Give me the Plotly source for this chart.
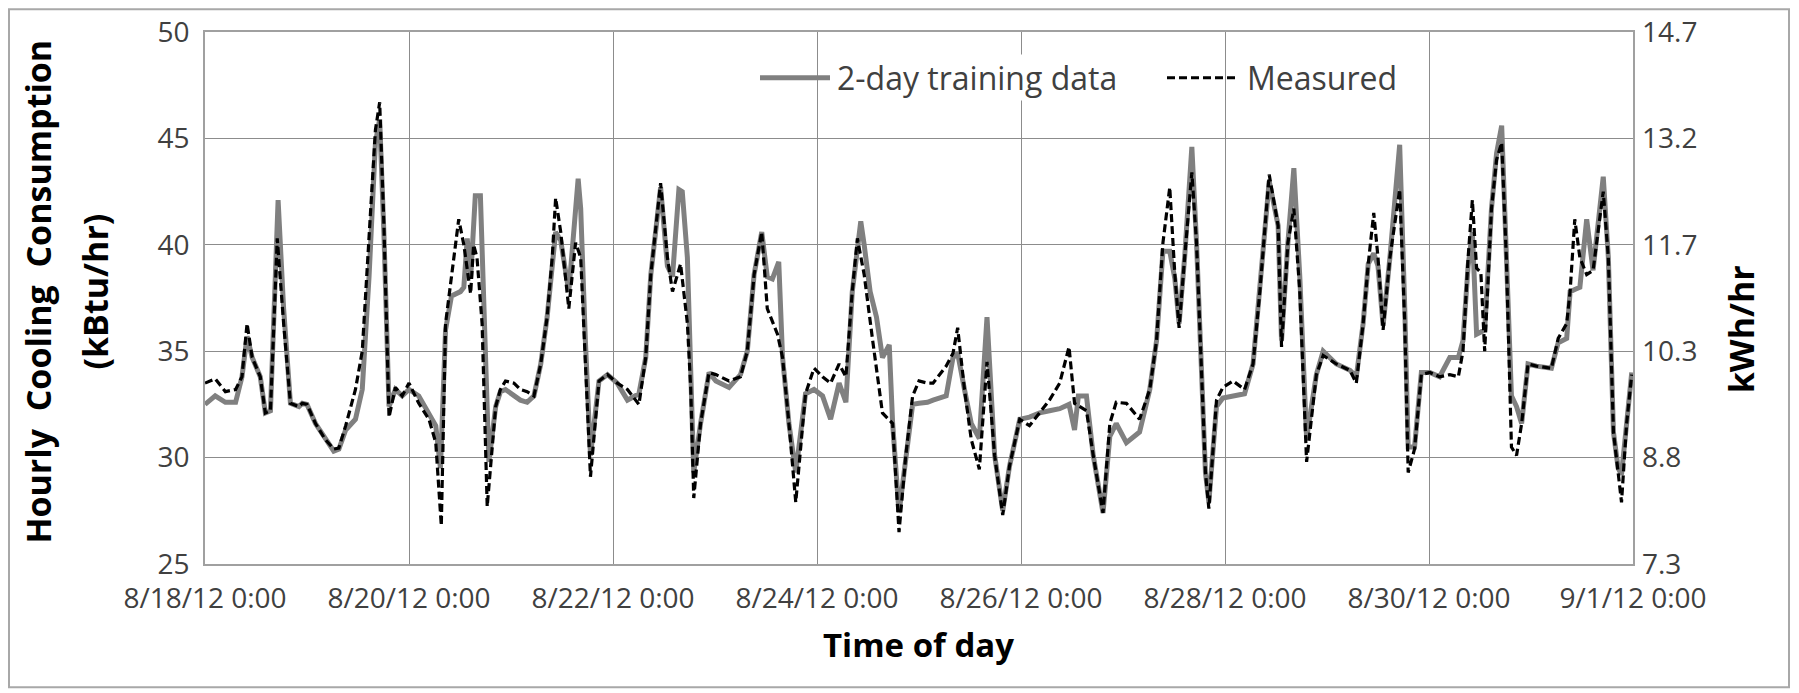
import pandas as pd
import plotly.graph_objects as go

# ---------------- data ----------------
start = pd.Timestamp("2012-08-18 00:00")

meas_hours = [0, 2.4, 4.8, 7.2, 8.7, 9.9, 11.1, 13, 14.2, 15.4, 17, 18.5, 20.1, 22.1, 22.9, 24,
              26, 28.3, 30.3, 31.5, 33.1, 35.4, 37, 38.6, 40.1, 41.1, 42.1, 43.3, 44.8, 46.4, 48,
              50.3, 52.7, 54.3, 55.6, 56.6, 58, 59.7, 60.9, 62.5, 63.2, 64, 65.2, 66.4, 68.4, 69.5,
              70.7, 72.7, 74.2, 75.8, 77.4, 79, 80.5, 81.7, 82.5, 83.7, 85.6, 87.2, 88.4, 89.5,
              90.7, 92.7, 94.7, 97, 99.4, 102.1, 103.7, 104.9, 107.2, 108.8, 110, 111.9, 113.5,
              114.3, 115, 116.6, 118.6, 120.2, 123.3, 126, 127.6, 129.2, 131, 132.3, 134.7, 135.9,
              137.4, 139, 141.3, 143.3, 145.3, 147.2, 149.2, 150.8, 152.3, 153.5, 155.1, 157.1,
              159.4, 161.8, 163.3, 164.9, 166.5, 168, 170, 171.3, 174.4, 176, 177.1, 178.7, 180.3,
              182.2, 184, 185.8, 187.7, 189.3, 191.7, 194, 196.4, 198.7, 201.1, 203.3, 204.6,
              207.4, 209, 211.3, 212.9, 214.4, 216.8, 219.9, 222.3, 223.9, 225.4, 227, 228.2,
              229.2, 230.5, 232.2, 233.3, 234.4, 235.4, 236.2, 238, 239.5, 241.9, 244.6, 246.6,
              248.2, 250.4, 252.5, 253.3, 254.8, 256.2, 257.6, 259.2, 261.5, 263.1, 266.2, 269.4,
              270.9, 272.5, 273.7, 275, 276, 277.2, 278.8, 281.1, 282.3, 283.1, 284.6, 286.2,
              288.2, 290.5, 292.9, 294.9, 296, 297.2, 298.2, 299.2, 300.2, 301.1, 302.7, 303.9,
              305.1, 306.2, 307.4, 308.6, 309.8, 311.3, 313.3, 316.8, 318.4, 320.4, 321.2, 322.3,
              323.5, 325.1, 326.6, 329, 330.2, 331.4, 332.5, 333.3, 334.5, 335.7]
meas_kbtu = [33.5, 33.7, 33.1, 33.2, 33.8, 36.3, 34.7, 33.8, 32.1, 32.2, 40.3, 36.3, 32.55, 32.4,
             32.55, 32.5, 31.6, 30.85, 30.4, 30.45, 31.5, 33.2, 35.0, 40.1, 45.4, 46.7, 40.9, 31.9,
             33.3, 32.9, 33.5, 32.55, 31.8, 30.7, 26.8, 36.3, 38.5, 41.2, 40.0, 37.7, 40.0, 39.4,
             36.3, 27.7, 32.4, 33.2, 33.6, 33.5, 33.2, 33.1, 32.9, 34.4, 36.6, 39.4, 42.2, 40.6,
             37.0, 40.1, 39.4, 34.7, 29.1, 33.6, 33.9, 33.5, 33.2, 32.5, 34.7, 38.6, 42.9, 39.4,
             37.8, 39.1, 36.3, 33.2, 28.1, 31.6, 34.0, 33.9, 33.6, 33.8, 35.0, 38.6, 40.6, 37.0,
             35.8, 34.7, 31.6, 27.9, 33.0, 34.2, 33.8, 33.5, 34.4, 33.8, 37.8, 40.3, 38.6, 35.5,
             32.1, 31.6, 26.5, 30.1, 32.9, 33.6, 33.5, 33.5, 34.3, 34.9, 36.1, 33.2, 30.85, 29.45,
             34.5, 30.1, 27.3, 29.6, 31.8, 31.5, 32.1, 32.7, 33.5, 35.2, 32.55, 32.2, 30.1, 27.4,
             31.6, 32.6, 32.55, 31.8, 33.2, 35.5, 40.1, 42.7, 38.6, 36.1, 39.4, 43.4, 40.1, 34.7,
             29.3, 27.6, 32.7, 33.3, 33.6, 33.2, 34.4, 37.8, 43.3, 40.9, 35.2, 40.1, 41.7, 37.8,
             29.8, 33.9, 34.8, 34.4, 34.1, 33.5, 36.3, 39.1, 41.5, 39.4, 36.0, 39.4, 42.6, 36.3,
             29.3, 30.4, 33.9, 34.0, 33.8, 33.9, 33.8, 35.0, 39.4, 42.1, 38.9, 38.7, 35.0, 41.7,
             44.0, 44.8, 39.4, 30.5, 30.1, 31.6, 34.4, 34.3, 34.2, 35.6, 36.3, 37.8, 41.2, 39.4,
             38.6, 38.8, 42.5, 39.4, 31.2, 29.3, 27.9, 31.6, 33.9]

train_hours = [0, 2.4, 4.8, 7.2, 8.7, 9.9, 11.1, 13, 14.2, 15.4, 17.2, 18.5, 20.1, 22.1, 22.9, 24,
               26, 28.3, 30.3, 31.5, 33.1, 35.4, 37, 38.6, 40.1, 41.1, 42.1, 43.3, 44.8, 46.4, 48,
               50.3, 52.7, 54.3, 55.4, 56.6, 58, 60.1, 60.9, 61.7, 62.5, 63.6, 64.8, 66, 66.8,
               68.4, 69.5, 70.7, 72.7, 74.2, 75.8, 77.4, 79, 80.5, 81.7, 82.5, 83.7, 85.6, 87.8,
               88.4, 89.5, 90.7, 92.7, 94.7, 97, 99.4, 102.1, 103.7, 104.9, 107.2, 108.8, 110,
               111.5, 112.3, 113.5, 114.3, 115, 116.6, 118.6, 120.2, 123.3, 126, 127.6, 129.2, 131,
               132.3, 133.5, 135, 135.9, 137.4, 139, 141.3, 143.3, 145.3, 147.2, 149.2, 150.8,
               152.3, 154.3, 155.1, 156.5, 158, 159.4, 161, 161.8, 163.3, 164.9, 166.5, 168, 170,
               171.3, 174.4, 176, 177.1, 178.7, 180.3, 182.2, 184, 185.8, 187.7, 189.3, 191.7, 194,
               196.4, 198.7, 201.1, 203.3, 204.6, 205.5, 207.4, 209, 211.3, 212.9, 214.4, 216.8,
               219.9, 222.3, 223.9, 225.4, 227, 228.2, 229.2, 230.5, 232.2, 233.3, 234.4, 235.4,
               236.2, 238, 239.5, 241.9, 244.6, 246.6, 248.2, 250.4, 252.5, 253.3, 254.8, 256.2,
               257.6, 259.2, 261.5, 263.1, 266.2, 269.4, 270.9, 272.5, 273.7, 275, 276, 277.2,
               278.8, 281.1, 282.3, 283.1, 284.6, 286.2, 288.2, 290.5, 292.9, 294.9, 296, 297.2,
               298.2, 299.2, 300.2, 301.1, 302.7, 303.9, 305.1, 306.2, 307.4, 308.6, 309.8, 311.3,
               313.3, 316.8, 318.4, 320.4, 321.2, 322.3, 323.5, 325.1, 326.6, 329, 330.2, 331.4,
               332.5, 333.3, 334.5, 335.7]
train_kbtu = [32.5, 32.9, 32.6, 32.6, 33.8, 35.7, 34.7, 33.8, 32.1, 32.2, 42.1, 37.0, 32.55, 32.4,
              32.55, 32.5, 31.6, 30.85, 30.3, 30.4, 31.3, 31.8, 33.2, 38.5, 44.8, 45.9, 40.5, 32.4,
              33.2, 32.9, 33.2, 32.9, 32.1, 31.5, 29.5, 36.0, 37.6, 37.8, 38.0, 40.3, 38.4, 42.3,
              42.3, 34.7, 29.8, 32.4, 33.1, 33.2, 32.9, 32.7, 32.6, 32.9, 34.4, 36.6, 39.0, 40.6,
              40.2, 37.8, 43.1, 41.7, 35.5, 30.1, 33.6, 33.9, 33.5, 32.7, 33.0, 34.7, 38.6, 42.7,
              39.0, 38.5, 42.6, 42.5, 39.4, 34.0, 29.3, 31.6, 34.0, 33.6, 33.3, 33.9, 35.0, 38.6,
              40.6, 38.5, 38.4, 39.2, 34.7, 31.6, 29.3, 33.0, 33.2, 32.9, 31.8, 33.5, 32.6, 37.8,
              41.1, 40.0, 37.8, 36.6, 34.7, 35.3, 31.6, 27.4, 30.1, 32.5, 32.55, 32.6, 32.7, 32.9,
              34.7, 34.9, 33.2, 31.6, 30.9, 36.6, 30.1, 27.5, 29.6, 31.8, 31.9, 32.1, 32.2, 32.3,
              32.5, 31.3, 32.9, 32.9, 30.1, 27.4, 31.0, 31.6, 30.7, 31.2, 33.2, 35.5, 39.7, 39.7,
              38.4, 36.3, 39.4, 44.6, 40.1, 34.7, 29.3, 27.9, 32.4, 32.8, 32.9, 33.0, 34.4, 37.8,
              43.0, 40.9, 35.5, 40.1, 43.6, 38.5, 30.9, 33.9, 35.0, 34.4, 34.1, 33.8, 36.3, 39.1,
              39.6, 39.0, 36.2, 39.4, 44.7, 37.0, 30.5, 30.5, 34.0, 34.0, 33.8, 34.7, 34.7, 35.5,
              39.0, 40.6, 35.8, 35.9, 36.0, 41.7, 44.3, 45.6, 39.4, 32.9, 32.4, 31.6, 34.4, 34.3,
              34.2, 35.4, 35.6, 37.8, 37.9, 38.0, 41.2, 38.8, 43.2, 39.4, 31.2, 29.5, 29.2, 31.6,
              34.0]

x_tick_dates = ["2012-08-18", "2012-08-20", "2012-08-22", "2012-08-24", "2012-08-26",
                "2012-08-28", "2012-08-30", "2012-09-01"]
x_tick_labels = ["8/18/12 0:00", "8/20/12 0:00", "8/22/12 0:00", "8/24/12 0:00",
                 "8/26/12 0:00", "8/28/12 0:00", "8/30/12 0:00", "9/1/12 0:00"]
kbtu_ticks = [25, 30, 35, 40, 45, 50]
KBTU_PER_KWH = 3.412
kwh_tick_labels = ["7.3", "8.8", "10.3", "11.7", "13.2", "14.7"]

series_names = ["2-day training data", "Measured"]

# ---------------- layout geometry ----------------
W, H = 1799, 693
L, R, T, B = 205, 166, 29, 129
PW, PH = W - L - R, H - T - B


def px(xp):
    return (xp - L) / PW


def py(yp):
    return (H - B - yp) / PH


FONT = "Open Sans"
GRAY = "#808080"
GRAY_W = 5
MEAS_W = 3.2
MEAS_DASH = "8px,4px"

meas_x = start + pd.to_timedelta(meas_hours, unit="h")
train_x = start + pd.to_timedelta(train_hours, unit="h")

fig = go.Figure()
fig.add_trace(go.Scatter(x=train_x, y=train_kbtu, mode="lines", name=series_names[0],
                         line=dict(color=GRAY, width=GRAY_W), showlegend=False))
fig.add_trace(go.Scatter(x=meas_x, y=meas_kbtu, mode="lines", name=series_names[1],
                         line=dict(color="#000000", width=MEAS_W, dash=MEAS_DASH),
                         showlegend=False))
# invisible companion on the kWh axis so the secondary axis is drawn
fig.add_trace(go.Scatter(x=meas_x, y=[v / KBTU_PER_KWH for v in meas_kbtu], yaxis="y2",
                         mode="lines", opacity=0, hoverinfo="skip", showlegend=False))

tickfont = dict(family=FONT, size=28, color="#404040")

fig.update_layout(
    width=W, height=H,
    margin=dict(l=L, r=R, t=T, b=B, pad=0),
    paper_bgcolor="white", plot_bgcolor="white",
    xaxis=dict(type="date", range=[x_tick_dates[0], x_tick_dates[-1]],
               tickvals=x_tick_dates, ticktext=x_tick_labels, tickfont=tickfont,
               showgrid=True, gridcolor="#8c8c8c", gridwidth=1.3,
               showline=True, linecolor="#a0a0a0", linewidth=1.5, mirror=True,
               ticks="", ticklabelstandoff=9, zeroline=False),
    yaxis=dict(range=[kbtu_ticks[0], kbtu_ticks[-1]], tickvals=kbtu_ticks,
               tickfont=tickfont, showgrid=True, gridcolor="#8c8c8c", gridwidth=1.3,
               showline=True, linecolor="#a0a0a0", linewidth=1.5, mirror=True,
               ticks="", ticklabelstandoff=8, zeroline=False),
    yaxis2=dict(overlaying="y", side="right",
                range=[kbtu_ticks[0] / KBTU_PER_KWH, kbtu_ticks[-1] / KBTU_PER_KWH],
                tickvals=[v / KBTU_PER_KWH for v in kbtu_ticks], ticktext=kwh_tick_labels,
                tickfont=tickfont, showgrid=False, zeroline=False, ticks="",
                ticklabelstandoff=8, showline=False),
    showlegend=False,
)

# axis titles
fig.add_annotation(text="Hourly\u00a0 Cooling\u00a0 Consumption", xref="paper", yref="paper",
                   x=px(38), y=py(290), textangle=-90, showarrow=False,
                   xanchor="center", yanchor="middle",
                   font=dict(family=FONT, size=34, color="#000000", weight="bold"))
fig.add_annotation(text="(kBtu/hr)", xref="paper", yref="paper",
                   x=px(95), y=py(290), textangle=-90, showarrow=False,
                   xanchor="center", yanchor="middle",
                   font=dict(family=FONT, size=34, color="#000000", weight="bold"))
fig.add_annotation(text="kWh/hr", xref="paper", yref="paper",
                   x=px(1741), y=py(328), textangle=-90, showarrow=False,
                   xanchor="center", yanchor="middle",
                   font=dict(family=FONT, size=34, color="#000000", weight="bold"))
fig.add_annotation(text="Time of day", xref="paper", yref="paper",
                   x=px(918), y=py(645), showarrow=False,
                   xanchor="center", yanchor="middle", borderpad=0,
                   font=dict(family=FONT, size=33, color="#000000", weight="bold"))

# legend (drawn inside the plot, as in the reference)
leg_y = py(75)
fig.add_shape(type="line", xref="paper", yref="paper", x0=px(760), x1=px(830),
              y0=leg_y, y1=leg_y, line=dict(color=GRAY, width=GRAY_W))
fig.add_annotation(text=series_names[0], xref="paper", yref="paper", x=px(835), y=leg_y,
                   xanchor="left", yanchor="middle", showarrow=False,
                   font=dict(family=FONT, size=32, color="#404040"),
                   bgcolor="white")
fig.add_shape(type="line", xref="paper", yref="paper", x0=px(1167), x1=px(1238),
              y0=leg_y, y1=leg_y, line=dict(color="#000000", width=MEAS_W, dash=MEAS_DASH))
fig.add_annotation(text=series_names[1], xref="paper", yref="paper", x=px(1245), y=leg_y,
                   xanchor="left", yanchor="middle", showarrow=False,
                   font=dict(family=FONT, size=32, color="#404040"))

# outer chart border
fig.add_shape(type="rect", xref="paper", yref="paper", x0=px(9), x1=px(1789),
              y0=py(688), y1=py(6), line=dict(color="#a8a8a8", width=2), layer="below")

fig.write_html("out.html", config={"displayModeBar": False},
               post_script="document.body.style.margin='0';"
                           "document.body.style.overflow='hidden';")
